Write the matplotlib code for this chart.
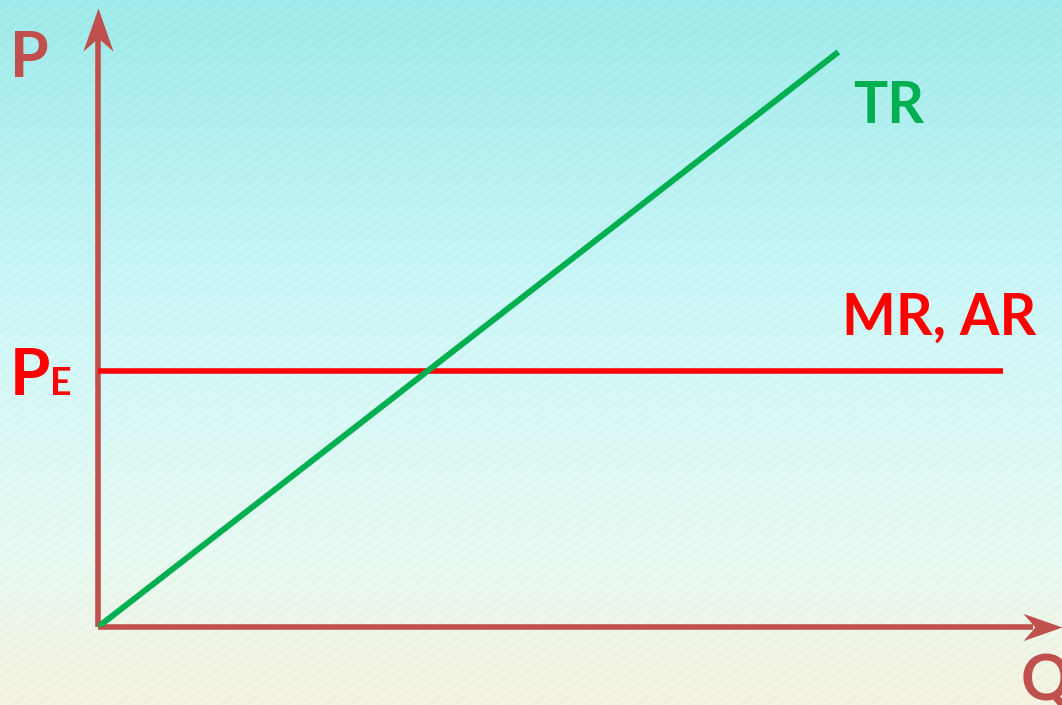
import matplotlib.pyplot as plt
import numpy as np
from matplotlib.colors import LinearSegmentedColormap
from matplotlib.path import Path

# chart values (arbitrary units on both axes)
q_max = 10.0
p_max = 10.0
p_e = 4.14            # equilibrium price, MR = AR
mr_q = [0.0, 9.39]
tr_q = [0.0, 7.68]
tr_val = [0.0, 9.29]

axis_col = "#C0504D"
red = "#FF0000"
green = "#00B050"
font = "Lato"

W, H = 1062, 705
fig = plt.figure(figsize=(W / 100, H / 100), dpi=100)

# background: cyan to pale cream with faint diagonal streaks
bg = fig.add_axes([0, 0, 1, 1], zorder=0)
yy, xx = np.mgrid[0:H, 0:W]
cmap = LinearSegmentedColormap.from_list(
    "bg", [(0.0, "#9FEAEA"), (0.45, "#CFF7F8"), (0.78, "#E6F9F2"), (1.0, "#F4F2DE")])
rgb = cmap(yy / (H - 1))[..., :3]
rgb = np.clip(rgb + 0.008 * np.sin((xx + 1.4 * yy) * 2 * np.pi / 13)[..., None], 0, 1)
bg.imshow(rgb, aspect="auto", interpolation="bilinear")
bg.axis("off")

# main axes, origin at the corner of the two arrows
ax = fig.add_axes([98 / W, 78 / H, 964 / W, 619 / H], zorder=1)
ax.set_xlim(0, q_max)
ax.set_ylim(0, p_max)
ax.axis("off")
ax.patch.set_alpha(0)

# stealth-style arrow head, tip at the origin of the path
def head(angle):
    v = np.array([[0, 0], [-15, -43], [0, -30], [15, -43], [0, 0]], float)
    a = np.deg2rad(angle)
    r = np.array([[np.cos(a), -np.sin(a)], [np.sin(a), np.cos(a)]])
    return Path(v @ r.T, [Path.MOVETO, Path.LINETO, Path.LINETO, Path.LINETO, Path.CLOSEPOLY])

lw = 4.0
ax.plot([0, 0], [0, p_max * 0.97], color=axis_col, lw=lw, solid_capstyle="butt", clip_on=False)
ax.plot([0, q_max * 0.97], [0, 0], color=axis_col, lw=lw, solid_capstyle="butt", clip_on=False)
ax.plot([0], [p_max], marker=head(0), ms=62, color=axis_col, mew=0, clip_on=False)
ax.plot([q_max], [0], marker=head(-90), ms=56, color=axis_col, mew=0, clip_on=False)

ax.plot(mr_q, [p_e, p_e], color=red, lw=lw, solid_capstyle="butt", zorder=3)
ax.plot(tr_q, tr_val, color=green, lw=4.3, solid_capstyle="butt", zorder=4)

def label(x, y, s, size, color):
    fig.text(x / W, 1 - y / H, s, fontsize=size, color=color, fontweight="bold",
             family=font, ha="left", va="baseline")

label(10, 77, "P", 45, axis_col)
label(10, 395, "P", 47, red)
label(50, 395, "E", 27, red)
label(853, 123, "TR", 41, green)
label(842, 335, "MR, AR", 41, red)
label(1021, 700, "Q", 45, axis_col)

fig.savefig("out.png", dpi=100)
